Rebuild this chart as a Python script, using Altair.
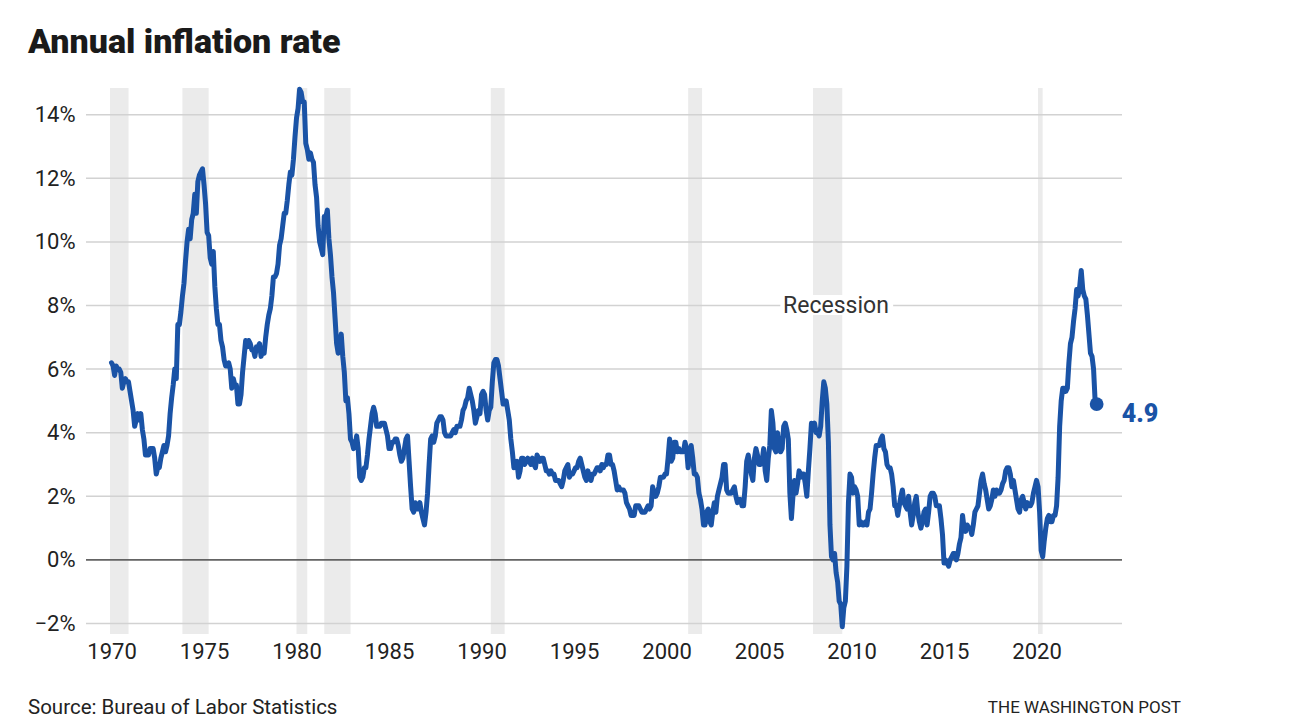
import altair as alt
import pandas as pd

# Monthly year-over-year CPI change (%), Jan..Dec for each year
rate_1970s = [
    6.2, 6.1, 5.8, 6.1, 6.0, 6.0, 5.9, 5.4, 5.6, 5.7, 5.6, 5.6,   # 1970
    5.3, 5.0, 4.7, 4.2, 4.4, 4.6, 4.4, 4.6, 4.1, 3.8, 3.3, 3.3,   # 1971
    3.3, 3.5, 3.5, 3.5, 3.2, 2.7, 2.9, 2.9, 3.2, 3.4, 3.6, 3.4,   # 1972
    3.6, 3.9, 4.6, 5.1, 5.5, 6.0, 5.7, 7.4, 7.4, 7.8, 8.3, 8.7,   # 1973
    9.4, 10.0, 10.4, 10.1, 10.7, 10.9, 11.5, 10.9, 11.9, 12.1, 12.2, 12.3,  # 1974
    11.8, 11.2, 10.3, 10.2, 9.5, 9.3, 9.7, 8.6, 7.9, 7.4, 7.4, 6.9,  # 1975
    6.7, 6.3, 6.1, 6.1, 6.2, 6.0, 5.4, 5.7, 5.5, 5.5, 4.9, 4.9,   # 1976
    5.2, 5.9, 6.4, 6.9, 6.7, 6.9, 6.8, 6.6, 6.6, 6.4, 6.7, 6.7,   # 1977
    6.8, 6.4, 6.6, 6.5, 7.0, 7.4, 7.7, 7.9, 8.3, 8.9, 8.9, 9.0,   # 1978
    9.3, 9.9, 10.1, 10.5, 10.9, 10.9, 11.3, 11.8, 12.2, 12.1, 12.6, 13.3,  # 1979
]
rate_1980s = [
    13.9, 14.2, 14.8, 14.7, 14.4, 14.4, 13.1, 12.9, 12.6, 12.8, 12.6, 12.5,  # 1980
    11.8, 11.4, 10.5, 10.0, 9.8, 9.6, 10.8, 10.8, 11.0, 10.1, 9.6, 8.9,  # 1981
    8.4, 7.6, 6.8, 6.5, 6.7, 7.1, 6.4, 5.9, 5.0, 5.1, 4.6, 3.8,   # 1982
    3.7, 3.5, 3.6, 3.9, 3.5, 2.6, 2.5, 2.6, 2.9, 2.9, 3.3, 3.8,   # 1983
    4.2, 4.6, 4.8, 4.6, 4.2, 4.2, 4.2, 4.3, 4.3, 4.3, 4.1, 3.9,   # 1984
    3.5, 3.5, 3.7, 3.7, 3.8, 3.8, 3.6, 3.3, 3.1, 3.2, 3.5, 3.8,   # 1985
    3.9, 3.1, 2.3, 1.6, 1.5, 1.8, 1.6, 1.6, 1.8, 1.5, 1.3, 1.1,   # 1986
    1.5, 2.1, 3.0, 3.8, 3.9, 3.7, 3.9, 4.3, 4.4, 4.5, 4.5, 4.4,   # 1987
    4.0, 3.9, 3.9, 3.9, 3.9, 4.0, 4.1, 4.0, 4.2, 4.2, 4.2, 4.4,   # 1988
    4.7, 4.8, 5.0, 5.1, 5.4, 5.2, 5.0, 4.7, 4.3, 4.5, 4.7, 4.6,   # 1989
]
rate_1990s = [
    5.2, 5.3, 5.2, 4.7, 4.4, 4.7, 4.8, 5.6, 6.2, 6.3, 6.3, 6.1,   # 1990
    5.7, 5.3, 4.9, 4.9, 5.0, 4.7, 4.4, 3.8, 3.4, 2.9, 3.0, 3.1,   # 1991
    2.6, 2.8, 3.2, 3.2, 3.0, 3.1, 3.2, 3.1, 3.0, 3.2, 3.0, 2.9,   # 1992
    3.3, 3.2, 3.1, 3.2, 3.2, 3.0, 2.8, 2.8, 2.7, 2.8, 2.7, 2.7,   # 1993
    2.5, 2.5, 2.5, 2.4, 2.3, 2.5, 2.8, 2.9, 3.0, 2.6, 2.7, 2.7,   # 1994
    2.8, 2.9, 2.9, 3.1, 3.2, 3.0, 2.8, 2.6, 2.5, 2.8, 2.6, 2.5,   # 1995
    2.7, 2.7, 2.8, 2.9, 2.9, 2.8, 3.0, 2.9, 3.0, 3.0, 3.3, 3.3,   # 1996
    3.0, 3.0, 2.8, 2.5, 2.2, 2.3, 2.2, 2.2, 2.2, 2.1, 1.8, 1.7,   # 1997
    1.6, 1.4, 1.4, 1.4, 1.7, 1.7, 1.7, 1.6, 1.5, 1.5, 1.5, 1.6,   # 1998
    1.7, 1.6, 1.7, 2.3, 2.1, 2.0, 2.1, 2.3, 2.6, 2.6, 2.6, 2.7,   # 1999
]
rate_2000s = [
    2.7, 3.2, 3.8, 3.1, 3.2, 3.7, 3.7, 3.4, 3.5, 3.4, 3.4, 3.4,   # 2000
    3.7, 3.5, 2.9, 3.3, 3.6, 3.2, 2.7, 2.7, 2.6, 2.1, 1.9, 1.6,   # 2001
    1.1, 1.1, 1.5, 1.6, 1.2, 1.1, 1.5, 1.8, 1.5, 2.0, 2.2, 2.4,   # 2002
    2.6, 3.0, 3.0, 2.2, 2.1, 2.1, 2.1, 2.2, 2.3, 2.0, 1.8, 1.9,   # 2003
    1.9, 1.7, 1.7, 2.3, 3.1, 3.3, 3.0, 2.7, 2.5, 3.2, 3.5, 3.3,   # 2004
    3.0, 3.0, 3.1, 3.5, 2.8, 2.5, 3.2, 3.6, 4.7, 4.3, 3.5, 3.4,   # 2005
    4.0, 3.6, 3.4, 3.5, 4.2, 4.3, 4.1, 3.8, 2.1, 1.3, 2.0, 2.5,   # 2006
    2.1, 2.4, 2.8, 2.6, 2.7, 2.7, 2.4, 2.0, 2.8, 3.5, 4.3, 4.1,   # 2007
    4.3, 4.0, 4.0, 3.9, 4.2, 5.0, 5.6, 5.4, 4.9, 3.7, 1.1, 0.1,   # 2008
    0.0, 0.2, -0.4, -0.7, -1.3, -1.4, -2.1, -1.5, -1.3, -0.2, 1.8, 2.7,  # 2009
]
rate_2010s = [
    2.6, 2.1, 2.3, 2.2, 2.0, 1.1, 1.2, 1.1, 1.1, 1.2, 1.1, 1.5,   # 2010
    1.6, 2.1, 2.7, 3.2, 3.6, 3.6, 3.6, 3.8, 3.9, 3.5, 3.4, 3.0,   # 2011
    2.9, 2.9, 2.7, 2.3, 1.7, 1.7, 1.4, 1.7, 2.0, 2.2, 1.8, 1.7,   # 2012
    1.6, 2.0, 1.5, 1.1, 1.4, 1.8, 2.0, 1.5, 1.2, 1.0, 1.2, 1.5,   # 2013
    1.6, 1.1, 1.5, 2.0, 2.1, 2.1, 2.0, 1.7, 1.7, 1.7, 1.3, 0.8,   # 2014
    -0.1, 0.0, -0.1, -0.2, 0.0, 0.1, 0.2, 0.2, 0.0, 0.2, 0.5, 0.7,  # 2015
    1.4, 1.0, 0.9, 1.1, 1.0, 1.0, 0.8, 1.1, 1.5, 1.6, 1.7, 2.1,   # 2016
    2.5, 2.7, 2.4, 2.2, 1.9, 1.6, 1.7, 1.9, 2.2, 2.0, 2.2, 2.1,   # 2017
    2.1, 2.2, 2.4, 2.5, 2.8, 2.9, 2.9, 2.7, 2.3, 2.5, 2.2, 1.9,   # 2018
    1.6, 1.5, 1.9, 2.0, 1.8, 1.6, 1.8, 1.7, 1.7, 1.8, 2.1, 2.3,   # 2019
]
rate_2020s = [
    2.5, 2.3, 1.5, 0.3, 0.1, 0.6, 1.0, 1.3, 1.4, 1.2, 1.2, 1.4,   # 2020
    1.4, 1.7, 2.6, 4.2, 5.0, 5.4, 5.4, 5.3, 5.4, 6.2, 6.8, 7.0,   # 2021
    7.5, 7.9, 8.5, 8.3, 8.6, 9.1, 8.5, 8.3, 8.2, 7.7, 7.1, 6.5,   # 2022
    6.4, 6.0, 5.0, 4.9,                                           # 2023
]

# Recession periods (decimal years, start / end)
recession_start = [1969.92, 1973.83, 1980.0, 1981.5, 1990.5, 2001.17, 2007.92, 2020.08]
recession_end = [1970.92, 1975.25, 1980.58, 1982.92, 1991.25, 2001.92, 2009.5, 2020.33]

y_ticks = [-2, 0, 2, 4, 6, 8, 10, 12, 14]
x_ticks = [1970, 1975, 1980, 1985, 1990, 1995, 2000, 2005, 2010, 2015, 2020]

values = rate_1970s + rate_1980s + rate_1990s + rate_2000s + rate_2010s + rate_2020s
dates = [1970 + i / 12 for i in range(len(values))]
df = pd.DataFrame({"t": dates, "rate": values})
last = df.tail(1).copy()
last["label"] = "4.9"
rec = pd.DataFrame({"start": recession_start, "end": recession_end})

W, H = 1036, 546
FONT = "Roboto"
BLUE = "#1a53a6"

xscale = alt.Scale(domain=[1968.62, 2024.62], nice=False, zero=False)
yscale = alt.Scale(domain=[-2.33, 14.84], nice=False, zero=False)

bands = alt.Chart(rec).mark_rect(color="#ebebeb").encode(
    x=alt.X("start:Q", scale=xscale,
            axis=alt.Axis(values=x_ticks, format="d", title=None, grid=False, ticks=False,
                          domain=False, labelFont=FONT, labelFontSize=22,
                          labelColor="#222", labelPadding=7)),
    x2="end:Q",
    y=alt.value(0),
    y2=alt.value(H),
)

grid = alt.Chart(pd.DataFrame({"v": y_ticks})).mark_rule(color="#d2d2d2", strokeWidth=1.5).encode(
    y=alt.Y("v:Q", scale=yscale,
            axis=alt.Axis(values=y_ticks, title=None, grid=False, ticks=False, domain=False,
                          labelFont=FONT, labelFontSize=22, labelColor="#222", labelPadding=11,
                          labelExpr="datum.value < 0 ? '\u2212' + abs(datum.value) + '%' : datum.value + '%'")),
    x=alt.value(0),
    x2=alt.value(W),
)

zero = alt.Chart(pd.DataFrame({"v": [0]})).mark_rule(color="#111", strokeWidth=1).encode(
    y=alt.Y("v:Q", scale=yscale), x=alt.value(0), x2=alt.value(W)
)

# Recession annotation with white box
ann = pd.DataFrame({"x": [2006.15], "x2": [2012.25], "y": [8.33], "y2": [7.7],
                    "tx": [2009.16], "ty": [8.0], "text": ["Recession"]})
ann_box = alt.Chart(ann).mark_rect(color="white").encode(
    x=alt.X("x:Q", scale=xscale), x2="x2:Q", y=alt.Y("y:Q", scale=yscale), y2="y2:Q"
)
ann_text = alt.Chart(ann).mark_text(font=FONT, fontSize=23, color="#333", baseline="middle").encode(
    x=alt.X("tx:Q", scale=xscale), y=alt.Y("ty:Q", scale=yscale), text="text:N"
)

line = alt.Chart(df).mark_line(color=BLUE, strokeWidth=5, strokeJoin="round", strokeCap="round").encode(
    x=alt.X("t:Q", scale=xscale), y=alt.Y("rate:Q", scale=yscale)
)
dot = alt.Chart(last).mark_circle(color=BLUE, opacity=1, size=190).encode(
    x=alt.X("t:Q", scale=xscale), y=alt.Y("rate:Q", scale=yscale)
)
end_label = alt.Chart(last).mark_text(font=FONT, fontSize=25, fontWeight=900, color=BLUE,
                                       align="left", baseline="middle", dx=25, dy=10).encode(
    x=alt.X("t:Q", scale=xscale), y=alt.Y("rate:Q", scale=yscale), text="label:N"
)

title = alt.Chart(pd.DataFrame({"text": ["Annual inflation rate"]})).mark_text(
    font=FONT, fontSize=34, fontWeight=900, color="#1a1a1a",
    align="left", baseline="alphabetic").encode(
    x=alt.value(28 - 86), y=alt.value(53 - 88), text="text:N"
)
source = alt.Chart(pd.DataFrame({"text": ["Source: Bureau of Labor Statistics"]})).mark_text(
    font=FONT, fontSize=20.5, color="#222", align="left", baseline="alphabetic").encode(
    x=alt.value(28 - 86), y=alt.value(714 - 88), text="text:N"
)
credit = alt.Chart(pd.DataFrame({"text": ["THE WASHINGTON POST"]})).mark_text(
    font=FONT, fontSize=17, color="#222", align="right", baseline="alphabetic").encode(
    x=alt.value(1181 - 86), y=alt.value(713 - 88), text="text:N"
)

chart = alt.layer(bands, grid, zero, ann_box, ann_text, line, dot, end_label, title, source, credit).properties(
    width=W, height=H,
    autosize=alt.AutoSizeParams(type="none"),
    padding={"left": 78, "top": 80, "right": 150, "bottom": 86},
).configure_view(stroke=None)

chart.save("out.html", embed_options={"renderer": "svg", "actions": False})
